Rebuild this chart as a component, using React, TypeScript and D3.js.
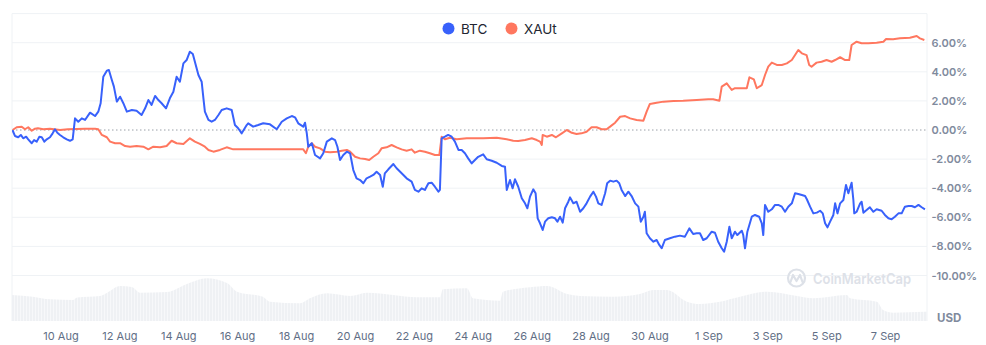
import React from "react";
import * as d3 from "d3";

// ---- data (t = days since start of window, v = % change) ----
const btcT = [0.02,0.04,0.10,0.21,0.30,0.38,0.48,0.55,0.67,0.75,0.84,0.93,1.01,1.10,1.18,1.29,1.38,1.46,1.54,1.63,1.74,1.86,1.97,2.06,2.14,2.25,2.37,2.48,2.65,2.82,2.93,3.01,3.10,3.22,3.29,3.39,3.46,3.56,3.67,3.78,3.90,4.07,4.23,4.40,4.52,4.63,4.74,4.86,4.97,5.08,5.23,5.36,5.48,5.59,5.70,5.82,5.93,6.04,6.14,6.21,6.33,6.44,6.50,6.55,6.67,6.78,6.89,7.01,7.12,7.29,7.46,7.57,7.68,7.80,7.97,8.02,8.19,8.36,8.53,8.76,8.99,9.16,9.33,9.50,9.61,9.72,9.89,9.95,10.01,10.06,10.18,10.29,10.46,10.57,10.69,10.86,10.97,11.05,11.14,11.25,11.37,11.48,11.59,11.70,11.82,11.93,12.04,12.16,12.27,12.38,12.50,12.59,12.66,12.78,12.95,13.06,13.18,13.29,13.40,13.57,13.68,13.80,13.91,14.02,14.14,14.25,14.36,14.48,14.53,14.59,14.70,14.81,14.93,15.04,15.16,15.27,15.38,15.49,15.61,15.66,15.83,16.00,16.12,16.29,16.46,16.63,16.74,16.80,16.91,17.00,17.08,17.19,17.31,17.42,17.50,17.59,17.70,17.78,17.85,17.93,18.02,18.10,18.21,18.33,18.44,18.52,18.61,18.70,18.78,18.89,18.95,19.06,19.17,19.29,19.40,19.51,19.63,19.74,19.83,19.91,20.02,20.14,20.21,20.31,20.42,20.53,20.62,20.70,20.82,20.93,21.04,21.16,21.27,21.35,21.44,21.49,21.55,21.66,21.78,21.89,21.98,22.06,22.17,22.34,22.51,22.68,22.85,23.00,23.13,23.25,23.36,23.47,23.59,23.76,23.87,23.98,24.10,24.18,24.27,24.36,24.44,24.55,24.63,24.78,24.83,24.89,24.97,25.12,25.23,25.37,25.46,25.51,25.57,25.68,25.80,25.91,26.02,26.14,26.25,26.36,26.48,26.59,26.70,26.82,26.93,26.99,27.10,27.21,27.33,27.44,27.53,27.61,27.69,27.78,27.89,27.95,28.03,28.12,28.23,28.32,28.40,28.51,28.57,28.60,28.68,28.80,28.85,28.91,29.02,29.13,29.25,29.36,29.53,29.64,29.76,29.87,29.98,30.10,30.21,30.32,30.44,30.55,30.66,30.78,30.89,31.00];
const btcV = [0.00,-0.12,-0.41,-0.50,-0.34,-0.57,-0.46,-0.64,-0.91,-0.69,-0.80,-0.46,-0.50,-0.80,-0.64,-0.50,-0.23,0.05,-0.19,-0.34,-0.50,-0.64,-0.74,-0.64,0.80,0.57,0.80,0.69,1.19,0.96,1.26,1.84,3.66,4.08,4.12,3.44,2.98,1.95,2.29,1.84,1.26,1.37,1.33,1.03,1.49,2.06,1.72,2.34,2.06,1.84,1.49,2.18,2.63,3.66,3.32,4.58,4.81,5.38,5.22,4.69,3.78,3.32,2.18,1.26,0.69,0.57,0.69,1.03,1.37,1.49,1.37,0.34,0.12,-0.23,0.34,0.46,0.23,0.34,0.46,0.39,0.05,0.57,0.80,0.96,0.87,0.46,0.23,0.50,-0.23,-1.15,-0.91,-1.72,-1.95,-1.60,-0.80,-0.57,-0.69,-1.15,-2.06,-1.72,-1.49,-1.60,-2.75,-3.32,-3.44,-3.66,-3.32,-3.21,-3.09,-2.87,-3.09,-3.90,-2.98,-2.70,-2.34,-2.63,-2.87,-3.09,-3.32,-3.55,-4.12,-4.24,-4.01,-4.12,-3.66,-3.62,-3.90,-4.24,-4.12,-0.57,-0.46,-0.34,-0.46,-0.80,-1.37,-1.37,-1.60,-1.95,-2.29,-2.18,-1.84,-1.67,-2.01,-2.11,-2.25,-2.47,-2.52,-4.12,-3.44,-4.01,-3.39,-3.90,-4.69,-5.04,-5.38,-4.58,-4.08,-4.35,-6.07,-6.41,-6.87,-6.30,-6.07,-6.00,-6.07,-6.30,-5.96,-6.37,-5.38,-4.93,-4.63,-5.04,-4.93,-5.62,-5.38,-5.04,-4.58,-4.24,-4.58,-5.04,-5.15,-4.35,-3.66,-3.48,-3.55,-3.48,-3.66,-4.12,-4.54,-4.24,-4.54,-5.04,-5.27,-6.30,-5.96,-5.62,-7.10,-7.44,-7.68,-7.56,-7.90,-8.13,-7.56,-7.44,-7.33,-7.26,-7.33,-6.76,-7.15,-7.10,-7.10,-7.56,-7.44,-6.99,-7.06,-7.68,-8.13,-8.36,-7.68,-6.65,-7.44,-6.99,-7.22,-6.92,-7.22,-8.13,-6.99,-5.96,-5.84,-5.96,-6.41,-7.22,-5.15,-5.62,-5.45,-5.15,-5.15,-5.27,-5.62,-5.27,-5.04,-4.35,-4.40,-4.47,-4.54,-4.76,-5.27,-5.73,-5.68,-5.55,-5.73,-6.41,-6.69,-6.30,-5.84,-5.04,-5.73,-5.04,-4.81,-3.78,-4.35,-3.62,-4.81,-5.73,-5.62,-5.04,-4.93,-5.68,-5.50,-5.31,-5.62,-5.45,-5.55,-5.84,-6.07,-6.14,-5.96,-5.73,-5.73,-5.27,-5.22,-5.22,-5.31,-5.15,-5.31,-5.45];

const xautT = [0.02,0.16,0.33,0.44,0.55,0.67,0.78,0.88,1.06,1.29,1.63,1.90,2.20,2.48,2.82,2.93,3.05,3.22,3.33,3.50,3.67,3.84,4.01,4.23,4.46,4.63,4.80,5.03,5.25,5.42,5.59,5.82,6.04,6.21,6.38,6.55,6.67,6.84,7.06,7.29,7.51,7.74,8.31,8.87,9.44,9.89,9.98,10.06,10.18,10.29,10.46,10.63,10.80,11.03,11.20,11.37,11.48,11.65,11.82,11.99,12.13,12.27,12.44,12.55,12.72,12.89,13.06,13.23,13.40,13.57,13.68,13.85,14.02,14.19,14.36,14.51,14.59,14.70,14.87,15.10,15.44,15.78,16.00,16.46,16.80,17.02,17.19,17.42,17.65,17.82,17.93,17.99,18.02,18.16,18.33,18.47,18.67,18.84,19.01,19.17,19.34,19.51,19.68,19.85,20.02,20.19,20.31,20.48,20.65,20.82,20.99,21.21,21.44,21.55,21.66,21.89,22.12,22.46,22.79,23.25,23.64,23.81,24.02,24.10,24.27,24.44,24.55,24.72,24.95,25.04,25.19,25.29,25.46,25.57,25.68,25.80,25.97,26.14,26.31,26.48,26.70,26.82,26.98,27.07,27.15,27.32,27.49,27.66,27.83,27.95,28.12,28.29,28.43,28.51,28.68,28.85,29.08,29.36,29.59,29.68,29.92,30.15,30.49,30.72,30.83,30.98];
const xautV = [0.00,0.19,0.23,0.05,0.19,-0.05,0.09,0.12,0.05,0.09,0.00,0.05,0.07,0.09,0.09,0.05,-0.34,-0.50,-0.80,-0.91,-0.91,-1.10,-1.15,-1.10,-1.15,-1.33,-1.15,-1.19,-1.10,-0.74,-0.91,-0.96,-0.57,-0.80,-0.96,-1.15,-1.37,-1.49,-1.37,-1.19,-1.33,-1.33,-1.33,-1.33,-1.33,-1.33,-1.60,-1.15,-0.91,-1.15,-1.26,-1.49,-1.53,-1.49,-1.42,-1.37,-1.49,-1.84,-1.95,-1.99,-2.06,-1.84,-1.60,-1.26,-1.19,-1.03,-1.19,-1.33,-1.42,-1.33,-1.56,-1.42,-1.49,-1.60,-1.72,-1.72,-0.46,-0.64,-0.53,-0.64,-0.57,-0.57,-0.57,-0.53,-0.64,-0.74,-0.76,-0.69,-0.57,-0.69,-0.80,-1.03,-0.34,-0.46,-0.34,-0.50,-0.23,0.00,-0.19,-0.27,-0.23,-0.12,0.19,0.19,0.05,0.05,0.23,0.50,0.91,0.96,0.80,0.69,0.64,1.26,1.79,1.88,1.95,1.99,2.01,2.06,2.11,2.11,2.01,2.98,3.21,2.75,2.87,2.87,2.87,3.62,3.48,2.87,3.09,3.78,4.35,4.63,4.47,4.47,4.58,4.81,5.50,5.27,5.15,4.47,4.35,4.63,4.69,4.81,4.69,4.81,5.00,4.81,4.81,5.84,6.07,5.96,5.96,6.00,6.07,6.25,6.23,6.30,6.34,6.46,6.30,6.19];

const volT = [0,0.71,1.29,2.07,2.21,2.99,3.23,3.67,4.07,4.35,5.26,5.94,6.62,7.30,7.64,8.52,8.76,9.78,10.12,10.70,11.48,12.05,12.94,13.75,14.53,14.63,15.45,15.65,16.57,16.67,17.59,18.17,18.85,19.29,20.41,21.32,21.77,22.24,22.92,23.36,24.04,24.72,25.64,26.66,27.20,28.35,28.46,29.37,29.58,29.92,31.00,31.07];
const volV = [26,24.3,21.7,21,23.5,25,28.3,35,34,28.3,29,37,42.7,38,29.3,24.3,19.3,17.7,22.7,27.7,25,28.3,26,23.7,23.7,31.7,32.7,22.7,20.3,29.3,33.7,35,27,25,24.3,27,31,31,19.3,17,19.3,24.3,29.3,25,22.7,26,22.7,19.3,11,8.3,9.3,9.3];

const yTicks = [-10, -8, -6, -4, -2, 0, 2, 4, 6, 8];
const tickDates = ["2025-08-10","2025-08-12","2025-08-14","2025-08-16","2025-08-18","2025-08-20","2025-08-22","2025-08-24","2025-08-26","2025-08-28","2025-08-30","2025-09-01","2025-09-03","2025-09-05","2025-09-07"];
const seriesNames = ["BTC", "XAUt"];
const seriesColors = ["#3861FB", "#FF775F"];

const START = new Date(2025, 7, 8, 8, 4).getTime();
const DAY = 86400000;
const toDate = (t: number) => new Date(START + t * DAY);
const parseDay = (s: string) => {
  const [y, m, d] = s.split("-").map(Number);
  return new Date(y, m - 1, d);
};

export default function App() {
  const W = 986, H = 345;
  const left = 12, right = 927;
  const x = d3.scaleTime().domain([toDate(0), toDate(31.07)]).range([left, right]);
  const y = d3.scaleLinear().domain([-10, 8]).range([275.5, 13.6]);
  const volBottom = 321;
  const yVol = d3.scaleLinear().domain([0, 43]).range([volBottom, volBottom - 43]);
  const line = d3.line<[number, number]>().x(d => x(toDate(d[0]))).y(d => y(d[1])).curve(d3.curveLinear);
  const btc = btcT.map((t, i) => [t, btcV[i]] as [number, number]);
  const xau = xautT.map((t, i) => [t, xautV[i]] as [number, number]);
  const volArea = d3.area<[number, number]>()
    .x(d => x(toDate(d[0])))
    .y0(volBottom)
    .y1(d => yVol(d[1]))
    .curve(d3.curveMonotoneX);
  const vol = volT.map((t, i) => [t, volV[i]] as [number, number]);
  const fmt = d3.timeFormat("%-d %b");
  const font = "Inter, 'Noto Sans', sans-serif";
  const gridColor = "#eff2f5";

  return (
    <svg width={W} height={H} style={{ position: "absolute", left: 0, top: 0, display: "block" }} fontFamily={font}>
      <defs>
        <pattern id="stripes" width="3" height="10" patternUnits="userSpaceOnUse">
          <rect width="3" height="10" fill="#eff1f4" />
          <rect x="2" width="1" height="10" fill="#f7f8fa" />
        </pattern>
        <clipPath id="plot">
          <rect x={left} y={0} width={right - left} height={volBottom} />
        </clipPath>
      </defs>
      <rect width={W} height={H} fill="#fff" />
      {/* volume */}
      <path d={volArea(vol) || ""} fill="url(#stripes)" clipPath="url(#plot)" />
      {/* grid */}
      {yTicks.map(v => (
        v === 0 ? (
          <line key={v} x1={left} x2={right} y1={y(v)} y2={y(v)} stroke="#9aa0a8" strokeWidth={1} strokeDasharray="1.5 2.5" />
        ) : (
          <line key={v} x1={left} x2={right} y1={y(v)} y2={y(v)} stroke={gridColor} strokeWidth={1} />
        )
      ))}
      <line x1={left} x2={left} y1={y(8)} y2={volBottom} stroke={gridColor} />
      <line x1={right} x2={right} y1={y(8)} y2={volBottom} stroke={gridColor} />
      {/* y labels */}
      {yTicks.filter(v => v !== 8).map(v => (
        <text key={v} x={931.5} y={y(v) + 4} fontSize={11} fontWeight={600} fill="#808a9d">
          {v.toFixed(2)}%
        </text>
      ))}
      <text x={937} y={322} fontSize={11.5} fontWeight={700} fill="#808a9d">USD</text>
      {/* x labels */}
      {tickDates.map(s => {
        const d = parseDay(s);
        return (
          <text key={s} x={x(d)} y={340} fontSize={11} textAnchor="middle" fill="#616e85">{fmt(d)}</text>
        );
      })}
      {/* watermark */}
      <g>
        <circle cx={796.5} cy={278} r={8.5} fill="none" stroke="#dde1e8" strokeWidth={2.2} />
        <path d="M790.5,282 L793,275 L796.5,281 L800,275 L802.5,282" fill="none" stroke="#dde1e8" strokeWidth={2.2} strokeLinejoin="round" strokeLinecap="round" />
        <text x={813} y={283.5} fontSize={14.5} fontWeight={600} fill="#dde1e8" textLength={98} lengthAdjust="spacingAndGlyphs">CoinMarketCap</text>
      </g>
      {/* lines */}
      <g clipPath="url(#plot)">
        <path d={line(xau) || ""} fill="none" stroke={seriesColors[1]} strokeWidth={2} strokeLinejoin="round" />
        <path d={line(btc) || ""} fill="none" stroke={seriesColors[0]} strokeWidth={2} strokeLinejoin="round" />
      </g>
      {/* legend */}
      <circle cx={448.5} cy={28.5} r={6} fill={seriesColors[0]} />
      <text x={461} y={33.5} fontSize={13.5} fill="#222531">{seriesNames[0]}</text>
      <circle cx={511.5} cy={28.5} r={6} fill={seriesColors[1]} />
      <text x={524} y={33.5} fontSize={13.5} fill="#222531">{seriesNames[1]}</text>
    </svg>
  );
}
